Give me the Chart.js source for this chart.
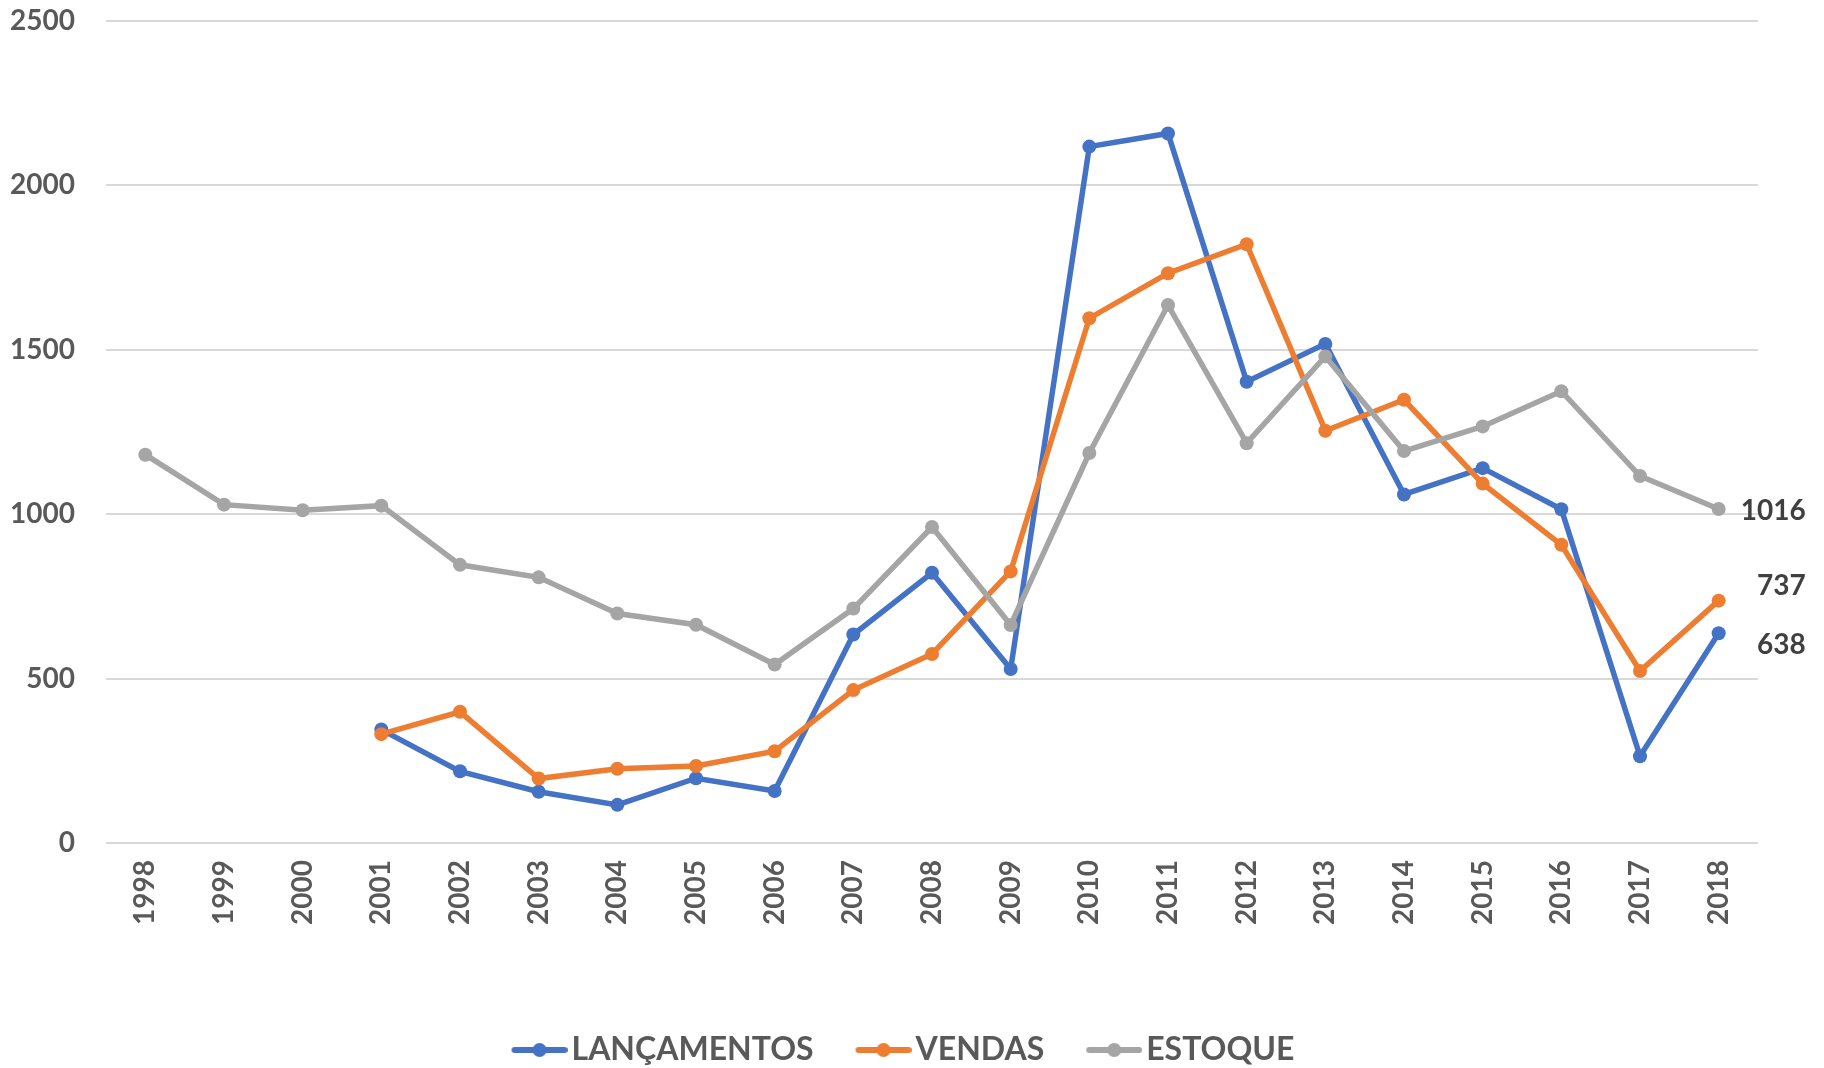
<!DOCTYPE html>
<html><head><meta charset="utf-8">
<script src="https://cdn.jsdelivr.net/npm/chart.js@4.4.0/dist/chart.umd.min.js"></script>
<style>html,body{margin:0;padding:0;background:#fff;} #wrap{width:1824px;height:1068px;}</style>
</head><body><div id="wrap"><canvas id="c" width="1824" height="1068"></canvas></div>
<script>
const years = ['1998','1999','2000','2001','2002','2003','2004','2005','2006','2007','2008','2009','2010','2011','2012','2013','2014','2015','2016','2017','2018'];
const lancamentos = [null,null,null,345,218,156,116,197,158,634,822,529,2118,2158,1403,1518,1060,1140,1015,264,638];
const vendas = [null,null,null,331,399,196,226,234,279,465,575,826,1596,1733,1821,1254,1348,1093,907,523,737];
const estoque = [1181,1029,1012,1026,846,808,698,664,543,713,961,663,1186,1636,1216,1480,1192,1267,1374,1116,1016];
const seriesNames = ['LANÇAMENTOS','VENDAS','ESTOQUE'];
const yTicks = [0,500,1000,1500,2000,2500];

const colors = ['#4472C4','#ED7D31','#A5A5A5'];
const axisColor = '#595959';
const endLabelOffsets = [12, -14.5, 2.5];

function legendIcon(color){
  const c = document.createElement('canvas');
  c.width = 110; c.height = 18;
  const g = c.getContext('2d');
  g.strokeStyle = color; g.lineWidth = 6; g.lineCap = 'round';
  g.beginPath(); g.moveTo(57, 9); g.lineTo(107, 9); g.stroke();
  g.fillStyle = color; g.beginPath(); g.arc(82, 9, 7, 0, Math.PI*2); g.fill();
  return c;
}

const endLabelPlugin = {
  id: 'endLabels',
  afterDatasetsDraw(chart){
    const ctx = chart.ctx;
    ctx.save();
    ctx.font = 'bold 28px Lato';
    ctx.fillStyle = '#404040';
    ctx.textAlign = 'right';
    ctx.textBaseline = 'middle';
    chart.data.datasets.forEach((ds, i) => {
      const meta = chart.getDatasetMeta(i);
      const n = ds.data.length - 1;
      const pt = meta.data[n];
      if (!pt || ds.data[n] == null) return;
      ctx.fillText(String(ds.data[n]), pt.x + 87, pt.y + endLabelOffsets[i]);
    });
    ctx.restore();
  }
};

function mk(label, data, color, order){
  return {
    label, data, order,
    borderColor: color, backgroundColor: color,
    borderWidth: 5.5, tension: 0,
    pointRadius: 7, pointHoverRadius: 7, pointBorderWidth: 0,
    pointBackgroundColor: color, pointBorderColor: color,
    clip: false
  };
}

function build(){
  new Chart(document.getElementById('c'), {
    type: 'line',
    data: {
      labels: years,
      datasets: [
        mk(seriesNames[0], lancamentos, colors[0], 3),
        mk(seriesNames[1], vendas, colors[1], 2),
        mk(seriesNames[2], estoque, colors[2], 1)
      ]
    },
    options: {
      responsive: false, animation: false, devicePixelRatio: 1,
      layout: { padding: { left: 0, right: 60, top: 21, bottom: -8 } },
      plugins: {
        tooltip: { enabled: false },
        legend: {
          position: 'bottom',
          labels: {
            usePointStyle: true,
            pointStyleWidth: 86,
            padding: 0,
            color: axisColor,
            font: { family: 'Lato', weight: 'bold', size: 32 },
            generateLabels(chart){
              return chart.data.datasets.map((ds, i) => ({
                text: ds.label,
                fillStyle: ds.borderColor,
                strokeStyle: ds.borderColor,
                lineWidth: 0,
                pointStyle: legendIcon(ds.borderColor),
                hidden: false,
                datasetIndex: i,
                fontColor: axisColor
              }));
            }
          }
        }
      },
      scales: {
        x: {
          type: 'category', offset: true,
          grid: { display: false }, border: { display: false },
          ticks: {
            minRotation: 90, maxRotation: 90, autoSkip: false, padding: 9,
            color: axisColor, font: { family: 'Lato', weight: 'bold', size: 28 }
          },
          afterFit(s){ s.height = 191; }
        },
        y: {
          min: yTicks[0], max: yTicks[yTicks.length-1],
          border: { display: false },
          grid: { color: '#d9d9d9', lineWidth: 2, drawTicks: true, tickLength: 31, tickColor: 'rgba(0,0,0,0)' },
          ticks: {
            stepSize: yTicks[1] - yTicks[0], padding: 0,
            color: axisColor, font: { family: 'Lato', weight: 'bold', size: 28 },
            callback: v => String(v)
          },
          afterFit(s){ s.width = 106; }
        },
        y2: {
          position: 'right', display: true,
          grid: { display: false }, border: { display: false },
          ticks: { display: false },
          afterFit(s){ s.width = 6; }
        }
      }
    },
    plugins: [endLabelPlugin]
  });
}
if (document.fonts && document.fonts.load) {
  Promise.all([document.fonts.load('bold 28px Lato'), document.fonts.load('bold 32px Lato')]).then(build, build);
} else build();
</script>
</body></html>
